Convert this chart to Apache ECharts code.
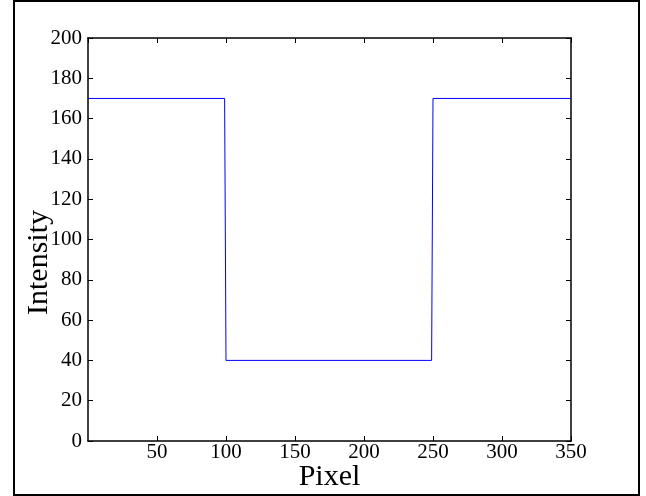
<!DOCTYPE html>
<html>
<head>
<meta charset="utf-8">
<style>
  html, body { margin: 0; padding: 0; background: #ffffff; }
  #chart { width: 646px; height: 496px; }
</style>
<script src="https://cdn.jsdelivr.net/npm/echarts@6/dist/echarts.min.js"></script>
</head>
<body>
<div id="chart"></div>
<script>
// Intensity profile along a scan line: breakpoints of the step signal
const pixelBreaks = [0, 99, 100, 249, 250, 350];
const intensityValues = [170, 170, 40, 40, 170, 170];

// Axis ticks
const xTicks = { min: 0, max: 350, interval: 50 };
const yTicks = { min: 0, max: 200, interval: 20 };

const serif = 'Liberation Serif';
const profile = pixelBreaks.map((p, i) => [p, intensityValues[i]]);

const chart = echarts.init(document.getElementById('chart'), null, { renderer: 'canvas' });

const spine = { show: true, onZero: false, lineStyle: { color: '#000', width: 1.5 } };
const ticks = { show: true, inside: true, length: 5, lineStyle: { color: '#000', width: 1 } };

chart.setOption({
  animation: false,
  backgroundColor: '#ffffff',
  grid: {
    left: 88, top: 38, right: 75, bottom: 55,
    containLabel: false, outerBoundsMode: 'none'
  },
  xAxis: [
    {
      type: 'value', position: 'bottom',
      min: xTicks.min, max: xTicks.max, interval: xTicks.interval,
      name: 'Pixel', nameLocation: 'middle', nameGap: 21, nameMoveOverlap: false,
      nameTextStyle: { fontFamily: serif, fontSize: 30, color: '#000' },
      axisLine: spine, axisTick: ticks, splitLine: { show: false },
      axisLabel: { fontFamily: serif, fontSize: 21, color: '#000', margin: 1, showMinLabel: false }
    },
    {
      type: 'value', position: 'top',
      min: xTicks.min, max: xTicks.max, interval: xTicks.interval,
      axisLine: spine, axisTick: ticks, splitLine: { show: false },
      axisLabel: { show: false }
    }
  ],
  yAxis: [
    {
      type: 'value', position: 'left',
      min: yTicks.min, max: yTicks.max, interval: yTicks.interval,
      name: 'Intensity', nameLocation: 'middle', nameGap: 34, nameRotate: 90, nameMoveOverlap: false,
      nameTextStyle: { fontFamily: serif, fontSize: 30, color: '#000', padding: [0, 46, 0, 0] },
      axisLine: spine, axisTick: ticks, splitLine: { show: false },
      axisLabel: { fontFamily: serif, fontSize: 21, color: '#000', margin: 6 }
    },
    {
      type: 'value', position: 'right',
      min: yTicks.min, max: yTicks.max, interval: yTicks.interval,
      axisLine: spine, axisTick: ticks, splitLine: { show: false },
      axisLabel: { show: false }
    }
  ],
  graphic: [
    {
      type: 'rect', silent: true, z: 100,
      shape: { x: 14, y: 1, width: 625, height: 494 },
      style: { fill: null, stroke: '#000', lineWidth: 2 }
    }
  ],
  series: [
    {
      type: 'line',
      xAxisIndex: 0, yAxisIndex: 0,
      data: profile,
      showSymbol: false,
      lineStyle: { color: '#0000ff', width: 1 }
    }
  ]
});
</script>
</body>
</html>
